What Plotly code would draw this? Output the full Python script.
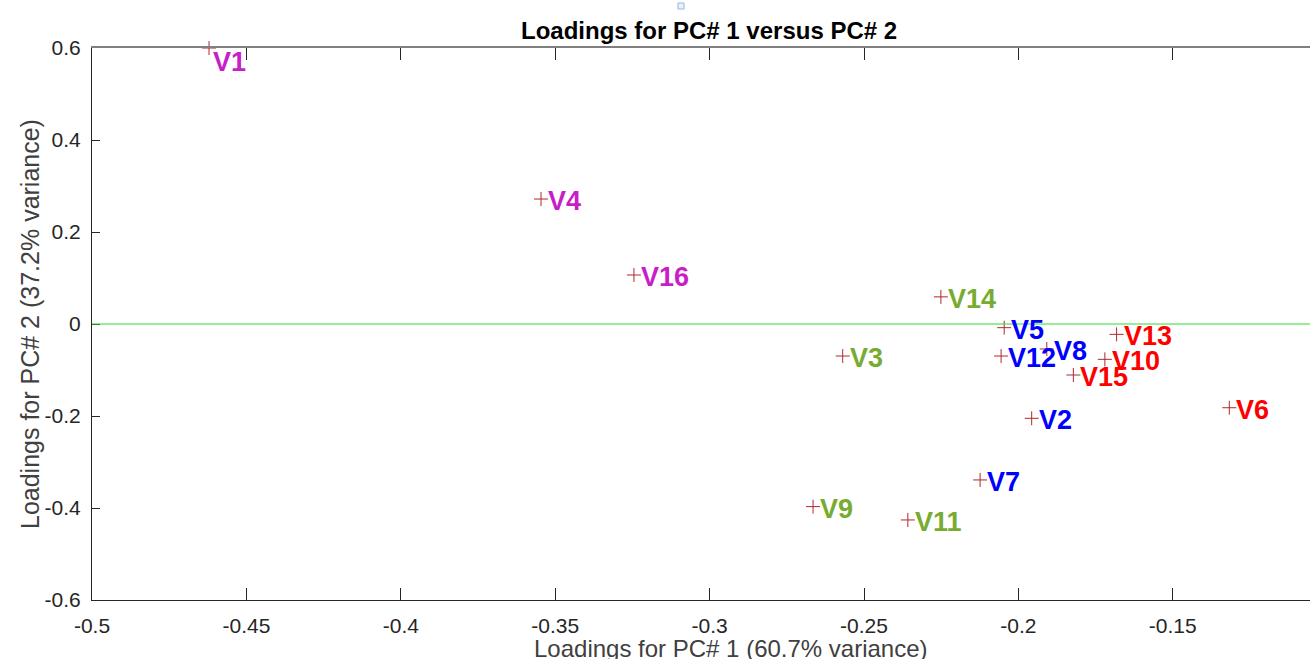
import plotly.graph_objects as go

# ---- data ----
names = ["V1", "V2", "V3", "V4", "V5", "V6", "V7", "V8",
         "V9", "V10", "V11", "V12", "V13", "V14", "V15", "V16"]
pc1 = [-0.4621, -0.1957, -0.2569, -0.3546, -0.2046, -0.1317, -0.2124, -0.1908,
       -0.2665, -0.1720, -0.2358, -0.2056, -0.1682, -0.2251, -0.1822, -0.3245]
pc2 = [0.600, -0.205, -0.0696, 0.2717, -0.008, -0.182, -0.339, -0.0543,
       -0.397, -0.0768, -0.426, -0.0696, -0.0225, 0.059, -0.1109, 0.1065]
groups = ["m", "b", "g", "m", "b", "r", "b", "b",
          "g", "r", "g", "b", "r", "g", "r", "m"]

x_tick_vals = [-0.5, -0.45, -0.4, -0.35, -0.3, -0.25, -0.2, -0.15]
x_tick_text = ["-0.5", "-0.45", "-0.4", "-0.35", "-0.3", "-0.25", "-0.2", "-0.15"]
y_tick_vals = [-0.6, -0.4, -0.2, 0, 0.2, 0.4, 0.6]
y_tick_text = ["-0.6", "-0.4", "-0.2", "0", "0.2", "0.4", "0.6"]

title_text = "Loadings for PC# 1 versus PC# 2"
x_title = "Loadings for PC# 1 (60.7% variance)"
y_title = "Loadings for PC# 2 (37.2% variance)"

# ---- style ----
group_colors = {"m": "#c81ec8", "b": "#0000ff", "g": "#77ac30", "r": "#ff0000"}
label_shift = {"V1": (2, -14)}
FONT = "Liberation Sans, Arial, Helvetica, sans-serif"
AX = "#262626"

fig = go.Figure()
fig.add_trace(go.Scatter(
    x=pc1, y=pc2, mode="markers",
    marker=dict(symbol="cross-thin", size=10, line=dict(color="#b0282e", width=1)),
    cliponaxis=False, hoverinfo="text", text=names, showlegend=False,
))

for n, x, y, g in zip(names, pc1, pc2, groups):
    dx, dy = label_shift.get(n, (5, -2))
    fig.add_annotation(
        x=x, y=y, xref="x", yref="y", text=n, showarrow=False,
        xanchor="left", yanchor="middle", xshift=dx, yshift=dy,
        font=dict(family=FONT, size=27, color=group_colors[g], weight="bold"),
    )

# zero line
fig.add_shape(type="line", xref="x domain", x0=0, x1=1, yref="y", y0=0, y1=0,
              line=dict(color="#2edc2e", width=1))

# title and axis titles
fig.add_annotation(text=title_text, xref="paper", yref="paper", x=0.5066, y=1,
                   yshift=18, xanchor="center", yanchor="middle", showarrow=False,
                   font=dict(family=FONT, size=24, color="#000000", weight="bold"))
fig.add_annotation(text=x_title, xref="paper", yref="paper", x=0.5246, y=0,
                   yshift=-48, xanchor="center", yanchor="middle", showarrow=False,
                   font=dict(family=FONT, size=24, color="#404040"))
fig.add_annotation(text=y_title, xref="paper", yref="paper", x=0, y=0.5,
                   xshift=-62, xanchor="center", yanchor="middle", showarrow=False,
                   textangle=-90,
                   font=dict(family=FONT, size=25, color="#404040"))

# tiny artifact square at top
fig.add_shape(type="rect", xref="paper", yref="paper",
              x0=(678 - 92) / 1218, x1=(684 - 92) / 1218,
              y0=1 + (48 - 9) / 552, y1=1 + (48 - 3) / 552,
              line=dict(color="#8fb8e0", width=1), fillcolor="#e8f2fc")

x_range = [-0.5, -0.5 + 1218 / 154.4 * 0.05]

fig.update_layout(
    width=1310, height=659,
    margin=dict(l=92, r=0, t=48, b=59, autoexpand=False),
    paper_bgcolor="white", plot_bgcolor="white",
    font=dict(family=FONT, color=AX),
    xaxis=dict(range=x_range, tickvals=x_tick_vals, ticktext=x_tick_text,
               ticks="inside", ticklen=12, tickcolor=AX, tickwidth=1,
               showline=True, linecolor=AX, linewidth=1, mirror=False,
               showgrid=False, zeroline=False, ticklabelstandoff=7,
               automargin=False, tickfont=dict(size=21, color=AX)),
    xaxis2=dict(overlaying="x", side="top", matches="x", range=x_range,
                tickvals=x_tick_vals, showticklabels=False,
                ticks="inside", ticklen=12, tickcolor=AX, tickwidth=1,
                showline=True, linecolor="#808080", linewidth=1.5,
                showgrid=False, zeroline=False, automargin=False),
    yaxis=dict(range=[-0.6, 0.6], tickvals=y_tick_vals, ticktext=y_tick_text,
               ticks="inside", ticklen=8, tickcolor=AX, tickwidth=1,
               showline=True, linecolor=AX, linewidth=1,
               showgrid=False, zeroline=False, ticklabelstandoff=6,
               automargin=False, tickfont=dict(size=21, color=AX)),
)

# invisible trace to make the top axis render
fig.add_trace(go.Scatter(x=x_range, y=[0, 0], xaxis="x2", mode="lines",
                         line=dict(width=0), hoverinfo="skip", showlegend=False,
                         opacity=0))

fig.write_html(
    "out.html",
    config={"displayModeBar": False},
    post_script="document.body.style.margin='0';document.body.style.overflow='hidden';",
)
